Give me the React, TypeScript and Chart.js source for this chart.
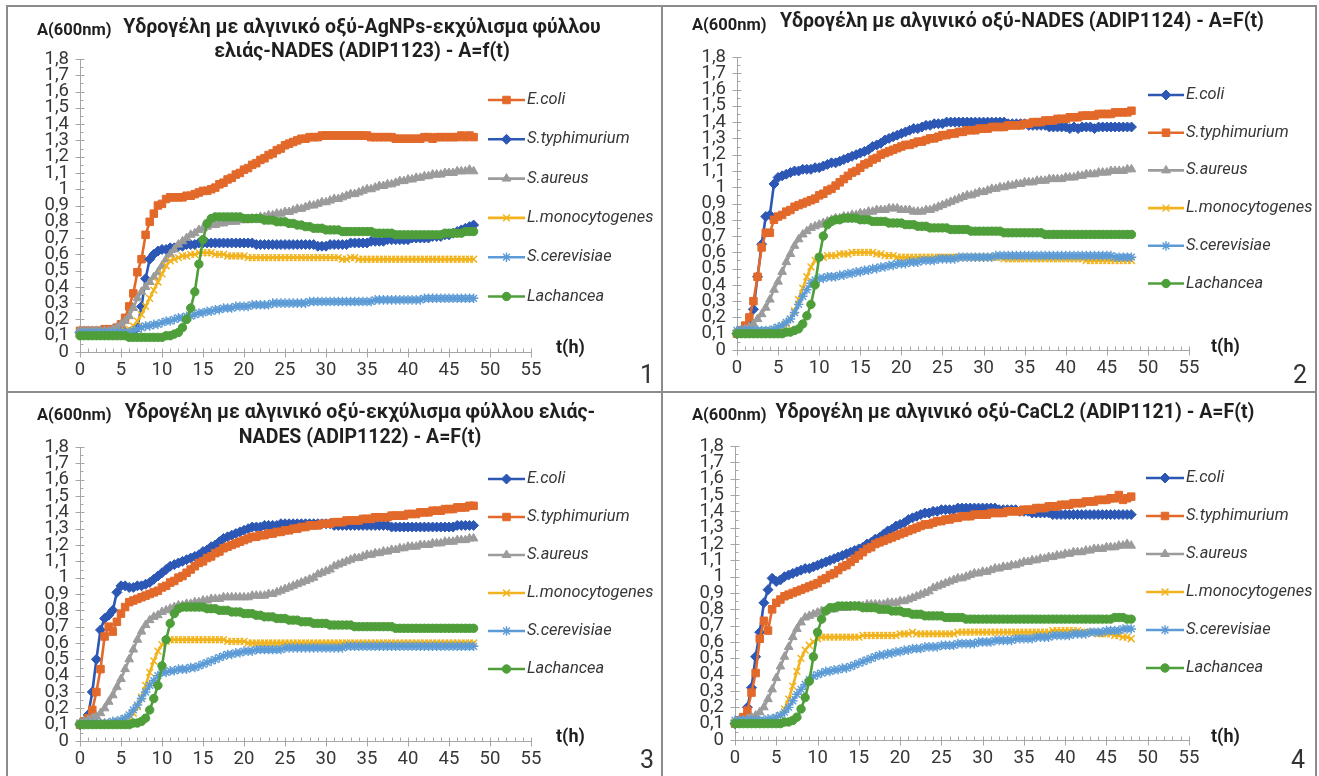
import React, { useEffect, useRef } from "react";
import { Chart, registerables } from "chart.js";
import { drawPoint } from "chart.js/helpers";

Chart.register(...registerables);

// ---------- categories / tick labels ----------
const hours = [
  0, 0.5, 1, 1.5, 2, 2.5, 3, 3.5, 4, 4.5,
  5, 5.5, 6, 6.5, 7, 7.5, 8, 8.5, 9, 9.5,
  10, 10.5, 11, 11.5, 12, 12.5, 13, 13.5, 14, 14.5,
  15, 15.5, 16, 16.5, 17, 17.5, 18, 18.5, 19, 19.5,
  20, 20.5, 21, 21.5, 22, 22.5, 23, 23.5, 24, 24.5,
  25, 25.5, 26, 26.5, 27, 27.5, 28, 28.5, 29, 29.5,
  30, 30.5, 31, 31.5, 32, 32.5, 33, 33.5, 34, 34.5,
  35, 35.5, 36, 36.5, 37, 37.5, 38, 38.5, 39, 39.5,
  40, 40.5, 41, 41.5, 42, 42.5, 43, 43.5, 44, 44.5,
  45, 45.5, 46, 46.5, 47, 47.5, 48,
];
const xTickLabels = ["0", "5", "10", "15", "20", "25", "30", "35", "40", "45", "50", "55"];
const yTickLabels = ["0", "0,1", "0,2", "0,3", "0,4", "0,5", "0,6", "0,7", "0,8", "0,9", "1", "1,1", "1,2", "1,3", "1,4", "1,5", "1,6", "1,7", "1,8"];
const seriesNames = ["E.coli", "S.typhimurium", "S.aureus", "L.monocytogenes", "S.cerevisiae", "Lachancea"];

// ---------- Panel 1 (ADIP1123) ----------
const p1EColi = [
  0.13, 0.13, 0.13, 0.13, 0.13, 0.13, 0.14, 0.14, 0.14, 0.15,
  0.17, 0.21, 0.28, 0.36, 0.49, 0.57, 0.72, 0.80, 0.85, 0.90,
  0.91, 0.94, 0.95, 0.95, 0.95, 0.95, 0.96, 0.96, 0.97, 0.98,
  0.99, 0.99, 1.00, 1.01, 1.03, 1.04, 1.06, 1.07, 1.09, 1.10,
  1.12, 1.13, 1.15, 1.16, 1.18, 1.19, 1.21, 1.22, 1.24, 1.25,
  1.27, 1.28, 1.29, 1.30, 1.31, 1.31, 1.32, 1.32, 1.32, 1.33,
  1.33, 1.33, 1.33, 1.33, 1.33, 1.33, 1.33, 1.33, 1.33, 1.33,
  1.33, 1.32, 1.32, 1.32, 1.32, 1.32, 1.32, 1.31, 1.31, 1.31,
  1.31, 1.31, 1.31, 1.31, 1.32, 1.32, 1.31, 1.32, 1.32, 1.32,
  1.32, 1.32, 1.32, 1.33, 1.32, 1.33, 1.32,
];
const p1STyph = [
  0.12, 0.12, 0.12, 0.12, 0.12, 0.12, 0.12, 0.12, 0.12, 0.12,
  0.12, 0.12, 0.12, 0.13, 0.15, 0.28, 0.45, 0.57, 0.60, 0.62,
  0.63, 0.63, 0.64, 0.64, 0.65, 0.65, 0.66, 0.66, 0.66, 0.67,
  0.67, 0.67, 0.67, 0.67, 0.67, 0.67, 0.67, 0.67, 0.67, 0.67,
  0.67, 0.67, 0.67, 0.66, 0.66, 0.66, 0.66, 0.66, 0.66, 0.66,
  0.66, 0.66, 0.66, 0.66, 0.66, 0.66, 0.66, 0.66, 0.65, 0.65,
  0.65, 0.66, 0.66, 0.66, 0.66, 0.66, 0.67, 0.67, 0.67, 0.67,
  0.67, 0.68, 0.68, 0.68, 0.68, 0.69, 0.69, 0.69, 0.69, 0.69,
  0.69, 0.70, 0.70, 0.70, 0.70, 0.70, 0.71, 0.71, 0.71, 0.72,
  0.72, 0.73, 0.74, 0.75, 0.76, 0.77, 0.78,
];
const p1SAur = [
  0.13, 0.13, 0.13, 0.13, 0.13, 0.13, 0.13, 0.13, 0.14, 0.15,
  0.17, 0.19, 0.22, 0.27, 0.33, 0.37, 0.40, 0.43, 0.46, 0.49,
  0.53, 0.57, 0.60, 0.63, 0.66, 0.68, 0.70, 0.72, 0.73, 0.75,
  0.76, 0.77, 0.78, 0.78, 0.79, 0.79, 0.80, 0.80, 0.80, 0.81,
  0.81, 0.81, 0.82, 0.82, 0.83, 0.83, 0.84, 0.84, 0.85, 0.85,
  0.86, 0.86, 0.87, 0.88, 0.88, 0.89, 0.90, 0.90, 0.91, 0.92,
  0.92, 0.93, 0.94, 0.94, 0.95, 0.96, 0.97, 0.97, 0.98, 0.99,
  1.00, 1.00, 1.01, 1.02, 1.02, 1.03, 1.03, 1.04, 1.05, 1.05,
  1.06, 1.06, 1.07, 1.07, 1.08, 1.08, 1.09, 1.09, 1.09, 1.10,
  1.10, 1.10, 1.11, 1.11, 1.11, 1.12, 1.11,
];
const p1LMono = [
  0.12, 0.12, 0.12, 0.12, 0.12, 0.12, 0.12, 0.12, 0.12, 0.12,
  0.12, 0.13, 0.14, 0.16, 0.19, 0.23, 0.28, 0.33, 0.38, 0.43,
  0.48, 0.53, 0.56, 0.57, 0.58, 0.59, 0.59, 0.60, 0.60, 0.61,
  0.61, 0.61, 0.61, 0.60, 0.60, 0.60, 0.59, 0.59, 0.59, 0.59,
  0.59, 0.58, 0.58, 0.58, 0.58, 0.58, 0.58, 0.58, 0.58, 0.58,
  0.58, 0.58, 0.58, 0.58, 0.58, 0.58, 0.58, 0.58, 0.58, 0.58,
  0.58, 0.58, 0.58, 0.58, 0.57, 0.57, 0.58, 0.58, 0.57, 0.57,
  0.57, 0.57, 0.57, 0.57, 0.57, 0.57, 0.57, 0.57, 0.57, 0.57,
  0.57, 0.57, 0.57, 0.57, 0.57, 0.57, 0.57, 0.57, 0.57, 0.57,
  0.57, 0.57, 0.57, 0.57, 0.57, 0.57, 0.57,
];
const p1SCer = [
  0.12, 0.12, 0.12, 0.12, 0.12, 0.12, 0.12, 0.12, 0.12, 0.12,
  0.12, 0.12, 0.12, 0.13, 0.14, 0.15, 0.16, 0.16, 0.17, 0.17,
  0.18, 0.19, 0.19, 0.20, 0.21, 0.21, 0.22, 0.22, 0.23, 0.24,
  0.24, 0.25, 0.25, 0.26, 0.26, 0.27, 0.27, 0.27, 0.28, 0.28,
  0.28, 0.28, 0.29, 0.29, 0.29, 0.29, 0.29, 0.30, 0.30, 0.30,
  0.30, 0.30, 0.30, 0.30, 0.30, 0.30, 0.31, 0.31, 0.31, 0.31,
  0.31, 0.31, 0.31, 0.31, 0.31, 0.31, 0.31, 0.31, 0.31, 0.31,
  0.31, 0.31, 0.32, 0.32, 0.32, 0.32, 0.32, 0.32, 0.32, 0.32,
  0.32, 0.32, 0.32, 0.32, 0.33, 0.33, 0.33, 0.33, 0.33, 0.33,
  0.33, 0.33, 0.33, 0.33, 0.33, 0.33, 0.33,
];
const p1Lach = [
  0.10, 0.10, 0.10, 0.10, 0.10, 0.10, 0.10, 0.10, 0.10, 0.10,
  0.10, 0.10, 0.09, 0.09, 0.09, 0.09, 0.09, 0.09, 0.09, 0.09,
  0.09, 0.10, 0.10, 0.11, 0.12, 0.15, 0.20, 0.27, 0.37, 0.54,
  0.69, 0.79, 0.82, 0.83, 0.83, 0.83, 0.83, 0.83, 0.83, 0.83,
  0.82, 0.82, 0.82, 0.82, 0.82, 0.81, 0.81, 0.81, 0.80, 0.80,
  0.80, 0.79, 0.79, 0.78, 0.78, 0.77, 0.77, 0.76, 0.76, 0.76,
  0.75, 0.75, 0.75, 0.75, 0.74, 0.74, 0.74, 0.74, 0.74, 0.74,
  0.74, 0.74, 0.73, 0.73, 0.73, 0.73, 0.73, 0.72, 0.72, 0.72,
  0.72, 0.72, 0.72, 0.72, 0.72, 0.72, 0.72, 0.72, 0.72, 0.73,
  0.73, 0.73, 0.73, 0.73, 0.74, 0.74, 0.74,
];

// ---------- Panel 2 (ADIP1124) ----------
const p2EColi = [
  0.10, 0.11, 0.12, 0.15, 0.25, 0.45, 0.65, 0.82, 0.83, 1.02,
  1.06, 1.07, 1.08, 1.09, 1.10, 1.10, 1.11, 1.11, 1.11, 1.12,
  1.12, 1.13, 1.14, 1.15, 1.15, 1.16, 1.17, 1.18, 1.19, 1.20,
  1.21, 1.22, 1.23, 1.25, 1.26, 1.27, 1.29, 1.30, 1.31, 1.32,
  1.33, 1.34, 1.35, 1.36, 1.36, 1.37, 1.38, 1.38, 1.39, 1.39,
  1.39, 1.40, 1.40, 1.40, 1.40, 1.40, 1.40, 1.40, 1.40, 1.40,
  1.40, 1.40, 1.40, 1.40, 1.40, 1.40, 1.39, 1.39, 1.39, 1.39,
  1.39, 1.38, 1.38, 1.38, 1.38, 1.38, 1.37, 1.37, 1.37, 1.37,
  1.37, 1.36, 1.37, 1.36, 1.37, 1.37, 1.37, 1.36, 1.37, 1.37,
  1.37, 1.37, 1.37, 1.37, 1.37, 1.37, 1.37,
];
const p2STyph = [
  0.10, 0.12, 0.15, 0.20, 0.30, 0.45, 0.63, 0.72, 0.72, 0.80,
  0.82, 0.83, 0.85, 0.86, 0.88, 0.89, 0.90, 0.91, 0.92, 0.93,
  0.95, 0.96, 0.98, 0.99, 1.01, 1.03, 1.05, 1.07, 1.09, 1.10,
  1.12, 1.14, 1.15, 1.17, 1.18, 1.20, 1.21, 1.22, 1.23, 1.24,
  1.25, 1.26, 1.26, 1.27, 1.28, 1.28, 1.29, 1.30, 1.30, 1.31,
  1.32, 1.32, 1.33, 1.33, 1.34, 1.34, 1.35, 1.35, 1.35, 1.36,
  1.36, 1.36, 1.37, 1.37, 1.37, 1.37, 1.38, 1.38, 1.38, 1.38,
  1.39, 1.39, 1.40, 1.40, 1.40, 1.41, 1.41, 1.41, 1.42, 1.42,
  1.42, 1.43, 1.43, 1.43, 1.44, 1.44, 1.44, 1.44, 1.45, 1.45,
  1.45, 1.45, 1.46, 1.46, 1.46, 1.46, 1.47,
];
const p2SAur = [
  0.11, 0.12, 0.13, 0.14, 0.16, 0.19, 0.22, 0.26, 0.31, 0.37,
  0.42, 0.48, 0.54, 0.59, 0.64, 0.68, 0.71, 0.73, 0.75, 0.76,
  0.77, 0.78, 0.79, 0.80, 0.81, 0.81, 0.82, 0.82, 0.83, 0.83,
  0.84, 0.84, 0.85, 0.85, 0.86, 0.86, 0.86, 0.87, 0.87, 0.87,
  0.86, 0.86, 0.86, 0.85, 0.85, 0.85, 0.86, 0.86, 0.87, 0.88,
  0.89, 0.90, 0.91, 0.92, 0.93, 0.94, 0.95, 0.95, 0.96, 0.97,
  0.97, 0.98, 0.99, 0.99, 1.00, 1.00, 1.01, 1.01, 1.02, 1.02,
  1.03, 1.03, 1.03, 1.04, 1.04, 1.04, 1.05, 1.05, 1.05, 1.05,
  1.06, 1.06, 1.06, 1.07, 1.07, 1.08, 1.08, 1.08, 1.09, 1.09,
  1.09, 1.10, 1.10, 1.10, 1.10, 1.11, 1.11,
];
const p2LMono = [
  0.11, 0.11, 0.11, 0.11, 0.11, 0.11, 0.11, 0.11, 0.12, 0.12,
  0.13, 0.14, 0.16, 0.19, 0.24, 0.31, 0.38, 0.45, 0.51, 0.55,
  0.57, 0.57, 0.58, 0.58, 0.58, 0.59, 0.59, 0.59, 0.60, 0.60,
  0.60, 0.60, 0.60, 0.60, 0.59, 0.59, 0.58, 0.58, 0.58, 0.57,
  0.57, 0.57, 0.57, 0.57, 0.57, 0.57, 0.57, 0.57, 0.57, 0.57,
  0.57, 0.57, 0.57, 0.57, 0.57, 0.57, 0.57, 0.57, 0.57, 0.57,
  0.57, 0.57, 0.57, 0.57, 0.57, 0.56, 0.56, 0.56, 0.56, 0.56,
  0.56, 0.56, 0.56, 0.56, 0.56, 0.56, 0.56, 0.56, 0.56, 0.56,
  0.56, 0.56, 0.56, 0.56, 0.56, 0.55, 0.55, 0.55, 0.55, 0.55,
  0.55, 0.55, 0.55, 0.55, 0.55, 0.55, 0.55,
];
const p2SCer = [
  0.12, 0.12, 0.12, 0.12, 0.12, 0.12, 0.12, 0.12, 0.12, 0.13,
  0.14, 0.15, 0.17, 0.19, 0.23, 0.28, 0.33, 0.37, 0.41, 0.43,
  0.44, 0.44, 0.45, 0.45, 0.45, 0.46, 0.46, 0.47, 0.47, 0.48,
  0.48, 0.49, 0.49, 0.50, 0.50, 0.51, 0.51, 0.52, 0.52, 0.53,
  0.53, 0.53, 0.54, 0.54, 0.54, 0.55, 0.55, 0.55, 0.55, 0.56,
  0.56, 0.56, 0.56, 0.56, 0.57, 0.57, 0.57, 0.57, 0.57, 0.57,
  0.57, 0.57, 0.57, 0.58, 0.58, 0.58, 0.58, 0.58, 0.58, 0.58,
  0.58, 0.58, 0.58, 0.58, 0.58, 0.58, 0.58, 0.58, 0.58, 0.58,
  0.58, 0.58, 0.58, 0.58, 0.58, 0.58, 0.58, 0.58, 0.58, 0.58,
  0.58, 0.58, 0.57, 0.57, 0.57, 0.57, 0.57,
];
const p2Lach = [
  0.10, 0.10, 0.10, 0.10, 0.10, 0.10, 0.10, 0.10, 0.10, 0.10,
  0.10, 0.10, 0.11, 0.11, 0.12, 0.13, 0.16, 0.21, 0.28, 0.40,
  0.57, 0.70, 0.77, 0.79, 0.80, 0.80, 0.81, 0.81, 0.81, 0.81,
  0.80, 0.80, 0.80, 0.79, 0.79, 0.79, 0.79, 0.78, 0.78, 0.78,
  0.78, 0.77, 0.77, 0.77, 0.76, 0.76, 0.76, 0.75, 0.75, 0.75,
  0.75, 0.75, 0.74, 0.74, 0.74, 0.74, 0.74, 0.73, 0.73, 0.73,
  0.73, 0.73, 0.73, 0.73, 0.73, 0.72, 0.72, 0.72, 0.72, 0.72,
  0.72, 0.72, 0.72, 0.72, 0.72, 0.71, 0.71, 0.71, 0.71, 0.71,
  0.71, 0.71, 0.71, 0.71, 0.71, 0.71, 0.71, 0.71, 0.71, 0.71,
  0.71, 0.71, 0.71, 0.71, 0.71, 0.71, 0.71,
];

// ---------- Panel 3 (ADIP1122) ----------
const p3EColi = [
  0.10, 0.12, 0.16, 0.30, 0.50, 0.68, 0.75, 0.77, 0.80, 0.91,
  0.95, 0.95, 0.94, 0.94, 0.95, 0.95, 0.96, 0.97, 0.99, 1.01,
  1.03, 1.05, 1.07, 1.08, 1.09, 1.10, 1.11, 1.12, 1.13, 1.14,
  1.16, 1.17, 1.19, 1.20, 1.22, 1.24, 1.25, 1.26, 1.27, 1.28,
  1.29, 1.30, 1.31, 1.31, 1.31, 1.32, 1.32, 1.32, 1.32, 1.33,
  1.33, 1.33, 1.33, 1.33, 1.33, 1.33, 1.33, 1.33, 1.33, 1.33,
  1.33, 1.33, 1.32, 1.32, 1.32, 1.32, 1.32, 1.32, 1.32, 1.32,
  1.32, 1.32, 1.32, 1.32, 1.32, 1.32, 1.31, 1.31, 1.31, 1.31,
  1.31, 1.31, 1.31, 1.31, 1.31, 1.31, 1.31, 1.31, 1.31, 1.31,
  1.31, 1.31, 1.32, 1.32, 1.32, 1.32, 1.32,
];
const p3STyph = [
  0.10, 0.12, 0.14, 0.19, 0.30, 0.44, 0.64, 0.70, 0.67, 0.73,
  0.78, 0.82, 0.85, 0.86, 0.87, 0.88, 0.89, 0.90, 0.91, 0.92,
  0.94, 0.95, 0.97, 0.98, 1.00, 1.01, 1.03, 1.05, 1.07, 1.09,
  1.10, 1.12, 1.13, 1.15, 1.16, 1.18, 1.19, 1.20, 1.21, 1.22,
  1.23, 1.24, 1.25, 1.25, 1.26, 1.26, 1.27, 1.27, 1.28, 1.28,
  1.29, 1.29, 1.30, 1.30, 1.31, 1.31, 1.32, 1.32, 1.32, 1.33,
  1.33, 1.33, 1.34, 1.34, 1.34, 1.35, 1.35, 1.35, 1.35, 1.36,
  1.36, 1.36, 1.37, 1.37, 1.37, 1.37, 1.38, 1.38, 1.38, 1.38,
  1.39, 1.39, 1.39, 1.40, 1.40, 1.40, 1.41, 1.41, 1.41, 1.42,
  1.42, 1.42, 1.43, 1.43, 1.43, 1.44, 1.44,
];
const p3SAur = [
  0.11, 0.12, 0.13, 0.14, 0.15, 0.17, 0.20, 0.24, 0.28, 0.33,
  0.38, 0.44, 0.50, 0.56, 0.62, 0.67, 0.71, 0.74, 0.76, 0.77,
  0.79, 0.80, 0.81, 0.82, 0.83, 0.83, 0.84, 0.84, 0.85, 0.85,
  0.86, 0.86, 0.87, 0.87, 0.87, 0.88, 0.88, 0.88, 0.88, 0.88,
  0.88, 0.88, 0.89, 0.89, 0.89, 0.89, 0.90, 0.90, 0.91, 0.92,
  0.93, 0.94, 0.95, 0.96, 0.97, 0.98, 0.99, 1.00, 1.02, 1.03,
  1.04, 1.05, 1.07, 1.08, 1.09, 1.10, 1.11, 1.12, 1.12, 1.13,
  1.14, 1.14, 1.15, 1.15, 1.16, 1.16, 1.17, 1.17, 1.18, 1.18,
  1.19, 1.19, 1.19, 1.20, 1.20, 1.20, 1.21, 1.21, 1.21, 1.22,
  1.22, 1.22, 1.23, 1.23, 1.23, 1.24, 1.24,
];
const p3LMono = [
  0.11, 0.11, 0.11, 0.11, 0.11, 0.11, 0.11, 0.11, 0.12, 0.12,
  0.12, 0.13, 0.14, 0.17, 0.21, 0.27, 0.34, 0.42, 0.49, 0.55,
  0.59, 0.61, 0.62, 0.62, 0.62, 0.62, 0.62, 0.62, 0.62, 0.62,
  0.62, 0.62, 0.62, 0.62, 0.62, 0.62, 0.61, 0.61, 0.61, 0.61,
  0.61, 0.60, 0.60, 0.60, 0.60, 0.60, 0.60, 0.60, 0.60, 0.60,
  0.60, 0.60, 0.60, 0.60, 0.60, 0.60, 0.60, 0.60, 0.60, 0.60,
  0.60, 0.60, 0.60, 0.60, 0.60, 0.60, 0.60, 0.60, 0.60, 0.60,
  0.60, 0.60, 0.60, 0.60, 0.60, 0.60, 0.60, 0.60, 0.60, 0.60,
  0.60, 0.60, 0.60, 0.60, 0.60, 0.60, 0.60, 0.60, 0.60, 0.60,
  0.60, 0.60, 0.60, 0.60, 0.60, 0.60, 0.60,
];
const p3SCer = [
  0.11, 0.11, 0.11, 0.11, 0.11, 0.11, 0.11, 0.11, 0.12, 0.12,
  0.13, 0.14, 0.16, 0.19, 0.22, 0.26, 0.30, 0.34, 0.37, 0.40,
  0.42, 0.42, 0.43, 0.43, 0.44, 0.44, 0.44, 0.45, 0.45, 0.46,
  0.47, 0.48, 0.49, 0.50, 0.51, 0.52, 0.53, 0.53, 0.54, 0.54,
  0.55, 0.55, 0.55, 0.56, 0.56, 0.56, 0.56, 0.56, 0.56, 0.56,
  0.57, 0.57, 0.57, 0.57, 0.57, 0.57, 0.57, 0.57, 0.57, 0.57,
  0.57, 0.57, 0.57, 0.57, 0.57, 0.58, 0.58, 0.58, 0.58, 0.58,
  0.58, 0.58, 0.58, 0.58, 0.58, 0.58, 0.58, 0.58, 0.58, 0.58,
  0.58, 0.58, 0.58, 0.58, 0.58, 0.58, 0.58, 0.58, 0.58, 0.58,
  0.58, 0.58, 0.58, 0.58, 0.58, 0.58, 0.58,
];
const p3Lach = [
  0.10, 0.10, 0.10, 0.10, 0.10, 0.10, 0.10, 0.10, 0.10, 0.10,
  0.10, 0.10, 0.10, 0.11, 0.11, 0.12, 0.14, 0.19, 0.26, 0.34,
  0.46, 0.62, 0.72, 0.78, 0.81, 0.82, 0.82, 0.82, 0.82, 0.82,
  0.82, 0.81, 0.81, 0.81, 0.80, 0.80, 0.80, 0.79, 0.79, 0.79,
  0.78, 0.78, 0.78, 0.77, 0.77, 0.76, 0.76, 0.76, 0.75, 0.75,
  0.75, 0.74, 0.74, 0.74, 0.73, 0.73, 0.73, 0.72, 0.72, 0.72,
  0.72, 0.71, 0.71, 0.71, 0.71, 0.71, 0.71, 0.70, 0.70, 0.70,
  0.70, 0.70, 0.70, 0.70, 0.70, 0.70, 0.70, 0.69, 0.69, 0.69,
  0.69, 0.69, 0.69, 0.69, 0.69, 0.69, 0.69, 0.69, 0.69, 0.69,
  0.69, 0.69, 0.69, 0.69, 0.69, 0.69, 0.69,
];

// ---------- Panel 4 (ADIP1121) ----------
const p4EColi = [
  0.10, 0.11, 0.13, 0.20, 0.32, 0.51, 0.66, 0.84, 0.92, 0.99,
  0.97, 0.98, 1.00, 1.01, 1.02, 1.03, 1.04, 1.05, 1.05, 1.06,
  1.07, 1.08, 1.09, 1.10, 1.11, 1.12, 1.13, 1.14, 1.15, 1.16,
  1.17, 1.18, 1.20, 1.21, 1.23, 1.24, 1.26, 1.28, 1.29, 1.31,
  1.32, 1.33, 1.35, 1.36, 1.37, 1.38, 1.39, 1.39, 1.40, 1.40,
  1.41, 1.41, 1.41, 1.41, 1.42, 1.42, 1.42, 1.42, 1.42, 1.42,
  1.42, 1.42, 1.42, 1.42, 1.41, 1.41, 1.41, 1.41, 1.41, 1.40,
  1.40, 1.40, 1.39, 1.39, 1.39, 1.39, 1.39, 1.38, 1.38, 1.38,
  1.38, 1.38, 1.38, 1.38, 1.38, 1.38, 1.38, 1.38, 1.38, 1.38,
  1.38, 1.38, 1.38, 1.38, 1.38, 1.38, 1.38,
];
const p4STyph = [
  0.10, 0.12, 0.14, 0.18, 0.29, 0.41, 0.62, 0.73, 0.67, 0.80,
  0.84, 0.86, 0.88, 0.89, 0.90, 0.91, 0.92, 0.93, 0.94, 0.95,
  0.96, 0.98, 0.99, 1.01, 1.02, 1.04, 1.06, 1.07, 1.09, 1.11,
  1.13, 1.15, 1.17, 1.18, 1.20, 1.21, 1.22, 1.23, 1.24, 1.25,
  1.26, 1.27, 1.28, 1.29, 1.30, 1.31, 1.32, 1.32, 1.33, 1.34,
  1.34, 1.35, 1.35, 1.36, 1.36, 1.37, 1.37, 1.37, 1.38, 1.38,
  1.38, 1.38, 1.39, 1.39, 1.39, 1.39, 1.40, 1.40, 1.40, 1.40,
  1.41, 1.41, 1.41, 1.42, 1.42, 1.42, 1.43, 1.43, 1.43, 1.44,
  1.44, 1.44, 1.45, 1.45, 1.45, 1.46, 1.46, 1.46, 1.47, 1.47,
  1.47, 1.48, 1.48, 1.50, 1.47, 1.48, 1.49,
];
const p4SAur = [
  0.11, 0.12, 0.12, 0.13, 0.14, 0.15, 0.17, 0.20, 0.25, 0.31,
  0.38, 0.45, 0.51, 0.57, 0.63, 0.68, 0.72, 0.75, 0.76, 0.77,
  0.78, 0.79, 0.79, 0.80, 0.80, 0.81, 0.81, 0.81, 0.82, 0.82,
  0.82, 0.82, 0.83, 0.83, 0.83, 0.83, 0.83, 0.84, 0.84, 0.84,
  0.85, 0.85, 0.86, 0.87, 0.88, 0.89, 0.90, 0.91, 0.93, 0.94,
  0.95, 0.96, 0.97, 0.98, 0.99, 0.99, 1.00, 1.01, 1.02, 1.02,
  1.03, 1.03, 1.04, 1.05, 1.05, 1.06, 1.06, 1.07, 1.07, 1.08,
  1.09, 1.09, 1.10, 1.10, 1.11, 1.11, 1.12, 1.12, 1.13, 1.13,
  1.14, 1.14, 1.15, 1.15, 1.15, 1.16, 1.16, 1.17, 1.17, 1.17,
  1.18, 1.18, 1.18, 1.19, 1.19, 1.20, 1.19,
];
const p4LMono = [
  0.11, 0.11, 0.11, 0.11, 0.11, 0.11, 0.11, 0.12, 0.12, 0.12,
  0.13, 0.15, 0.19, 0.25, 0.33, 0.42, 0.50, 0.55, 0.58, 0.60,
  0.62, 0.63, 0.63, 0.63, 0.63, 0.63, 0.63, 0.63, 0.63, 0.63,
  0.63, 0.64, 0.64, 0.64, 0.64, 0.64, 0.64, 0.64, 0.64, 0.64,
  0.65, 0.65, 0.65, 0.66, 0.65, 0.65, 0.65, 0.65, 0.65, 0.65,
  0.65, 0.65, 0.65, 0.65, 0.66, 0.66, 0.66, 0.66, 0.66, 0.66,
  0.66, 0.66, 0.66, 0.66, 0.66, 0.66, 0.66, 0.66, 0.66, 0.66,
  0.66, 0.66, 0.66, 0.66, 0.66, 0.66, 0.66, 0.67, 0.67, 0.67,
  0.67, 0.67, 0.67, 0.67, 0.66, 0.66, 0.66, 0.66, 0.65, 0.65,
  0.65, 0.65, 0.64, 0.64, 0.63, 0.63, 0.62,
];
const p4SCer = [
  0.12, 0.12, 0.12, 0.12, 0.12, 0.12, 0.12, 0.12, 0.13, 0.13,
  0.14, 0.15, 0.17, 0.20, 0.24, 0.28, 0.31, 0.34, 0.37, 0.39,
  0.40, 0.41, 0.42, 0.42, 0.43, 0.43, 0.44, 0.44, 0.45, 0.46,
  0.47, 0.48, 0.49, 0.50, 0.51, 0.52, 0.52, 0.53, 0.53, 0.54,
  0.54, 0.55, 0.55, 0.56, 0.56, 0.56, 0.57, 0.57, 0.57, 0.57,
  0.58, 0.58, 0.58, 0.58, 0.59, 0.59, 0.59, 0.59, 0.59, 0.60,
  0.60, 0.60, 0.60, 0.61, 0.61, 0.61, 0.61, 0.61, 0.62, 0.62,
  0.62, 0.62, 0.62, 0.63, 0.63, 0.63, 0.63, 0.64, 0.64, 0.64,
  0.64, 0.64, 0.65, 0.65, 0.65, 0.65, 0.66, 0.66, 0.66, 0.66,
  0.67, 0.67, 0.67, 0.67, 0.68, 0.68, 0.68,
];
const p4Lach = [
  0.10, 0.10, 0.10, 0.10, 0.10, 0.10, 0.10, 0.10, 0.10, 0.10,
  0.10, 0.10, 0.11, 0.11, 0.12, 0.14, 0.19, 0.26, 0.36, 0.51,
  0.66, 0.74, 0.79, 0.81, 0.81, 0.82, 0.82, 0.82, 0.82, 0.82,
  0.82, 0.81, 0.81, 0.81, 0.81, 0.80, 0.80, 0.80, 0.79, 0.79,
  0.79, 0.78, 0.78, 0.77, 0.77, 0.77, 0.76, 0.76, 0.76, 0.76,
  0.76, 0.75, 0.75, 0.75, 0.75, 0.75, 0.74, 0.74, 0.74, 0.74,
  0.74, 0.74, 0.74, 0.74, 0.74, 0.74, 0.74, 0.74, 0.74, 0.74,
  0.74, 0.74, 0.74, 0.74, 0.74, 0.74, 0.74, 0.74, 0.74, 0.74,
  0.74, 0.74, 0.74, 0.74, 0.74, 0.74, 0.74, 0.74, 0.74, 0.74,
  0.74, 0.74, 0.75, 0.75, 0.75, 0.74, 0.74,
];

// ---------- styles ----------
const FONT = "Roboto, 'Open Sans', sans-serif";
const TEXT = "#363636";
const AXIS = "#a6a6a6";

type MarkStyle = { color: string; pointStyle: string; radius: number; border: number };
const ORANGE_SQ: MarkStyle = { color: "#E2692A", pointStyle: "rect", radius: 5.3, border: 1 };
const BLUE_DIA: MarkStyle = { color: "#2C57B5", pointStyle: "rectRot", radius: 5, border: 1 };
const GRAY_TRI: MarkStyle = { color: "#9B9B9B", pointStyle: "triangle", radius: 5, border: 1 };
const YELLOW_X: MarkStyle = { color: "#F1B41F", pointStyle: "crossRot", radius: 4.8, border: 1.5 };
const LBLUE_STAR: MarkStyle = { color: "#5C9BD6", pointStyle: "star", radius: 4.8, border: 1.4 };
const GREEN_DOT: MarkStyle = { color: "#4E9E3A", pointStyle: "circle", radius: 4.2, border: 1 };

type Series = { name: string; data: number[]; style: MarkStyle };
type PanelCfg = {
  id: number;
  canvas: { x: number; y: number; w: number; h: number };
  area: { left: number; right: number; top: number; bottom: number };
  title: string[];
  titleX: number;
  titleY: number[];
  aLabel: { x: number; y: number };
  tLabel: { x: number; y: number };
  num: { x: number; y: number };
  legend: { x0: number; x1: number; y0: number; gap: number };
  series: Series[];
};

const panels: PanelCfg[] = [
  {
    id: 1,
    canvas: { x: 0, y: 0, w: 661, h: 391 },
    area: { left: 80, right: 531, top: 59, bottom: 352 },
    title: ["Υδρογέλη με αλγινικό οξύ-AgNPs-εκχύλισμα φύλλου", "ελιάς-NADES (ADIP1123) - A=f(t)"],
    titleX: 362,
    titleY: [28, 52],
    aLabel: { x: 37, y: 31 },
    tLabel: { x: 556, y: 348 },
    num: { x: 647, y: 377 },
    legend: { x0: 488, x1: 525, y0: 100, gap: 39.3 },
    series: [
      { name: seriesNames[0], data: p1EColi, style: ORANGE_SQ },
      { name: seriesNames[1], data: p1STyph, style: BLUE_DIA },
      { name: seriesNames[2], data: p1SAur, style: GRAY_TRI },
      { name: seriesNames[3], data: p1LMono, style: YELLOW_X },
      { name: seriesNames[4], data: p1SCer, style: LBLUE_STAR },
      { name: seriesNames[5], data: p1Lach, style: GREEN_DOT },
    ],
  },
  {
    id: 2,
    canvas: { x: 663, y: 0, w: 656, h: 391 },
    area: { left: 737, right: 1189, top: 57, bottom: 350 },
    title: ["Υδρογέλη με αλγινικό οξύ-NADES (ADIP1124) - A=F(t)"],
    titleX: 1022,
    titleY: [22],
    aLabel: { x: 692, y: 26 },
    tLabel: { x: 1211, y: 347 },
    num: { x: 1300, y: 377 },
    legend: { x0: 1148, x1: 1184, y0: 95, gap: 37.7 },
    series: [
      { name: seriesNames[0], data: p2EColi, style: BLUE_DIA },
      { name: seriesNames[1], data: p2STyph, style: ORANGE_SQ },
      { name: seriesNames[2], data: p2SAur, style: GRAY_TRI },
      { name: seriesNames[3], data: p2LMono, style: YELLOW_X },
      { name: seriesNames[4], data: p2SCer, style: LBLUE_STAR },
      { name: seriesNames[5], data: p2Lach, style: GREEN_DOT },
    ],
  },
  {
    id: 3,
    canvas: { x: 0, y: 393, w: 661, h: 383 },
    area: { left: 80, right: 531, top: 447, bottom: 741 },
    title: ["Υδρογέλη με αλγινικό οξύ-εκχύλισμα φύλλου ελιάς-", "NADES (ADIP1122) - A=F(t)"],
    titleX: 360,
    titleY: [413, 438],
    aLabel: { x: 37, y: 416 },
    tLabel: { x: 556, y: 737 },
    num: { x: 647, y: 762 },
    legend: { x0: 488, x1: 525, y0: 479, gap: 38 },
    series: [
      { name: seriesNames[0], data: p3EColi, style: BLUE_DIA },
      { name: seriesNames[1], data: p3STyph, style: ORANGE_SQ },
      { name: seriesNames[2], data: p3SAur, style: GRAY_TRI },
      { name: seriesNames[3], data: p3LMono, style: YELLOW_X },
      { name: seriesNames[4], data: p3SCer, style: LBLUE_STAR },
      { name: seriesNames[5], data: p3Lach, style: GREEN_DOT },
    ],
  },
  {
    id: 4,
    canvas: { x: 663, y: 393, w: 656, h: 383 },
    area: { left: 735, right: 1189, top: 446, bottom: 740 },
    title: ["Υδρογέλη με αλγινικό οξύ-CaCL2 (ADIP1121) - A=F(t)"],
    titleX: 1015,
    titleY: [413],
    aLabel: { x: 692, y: 416 },
    tLabel: { x: 1211, y: 737 },
    num: { x: 1298, y: 762 },
    legend: { x0: 1146, x1: 1184, y0: 478, gap: 38 },
    series: [
      { name: seriesNames[0], data: p4EColi, style: BLUE_DIA },
      { name: seriesNames[1], data: p4STyph, style: ORANGE_SQ },
      { name: seriesNames[2], data: p4SAur, style: GRAY_TRI },
      { name: seriesNames[3], data: p4LMono, style: YELLOW_X },
      { name: seriesNames[4], data: p4SCer, style: LBLUE_STAR },
      { name: seriesNames[5], data: p4Lach, style: GREEN_DOT },
    ],
  },
];

function makeDecor(p: PanelCfg) {
  const ox = p.canvas.x;
  const oy = p.canvas.y;
  return {
    id: "decor" + p.id,
    beforeDatasetsDraw(chart: any) {
      const ctx = chart.ctx as CanvasRenderingContext2D;
      const xs = chart.scales.x;
      const ys = chart.scales.y;
      const left = Math.round(xs.getPixelForValue(0)) + 0.5;
      const bottom = Math.round(ys.getPixelForValue(0)) + 0.5;
      ctx.save();
      ctx.strokeStyle = AXIS;
      ctx.lineWidth = 1;
      ctx.beginPath();
      ctx.moveTo(left, ys.getPixelForValue(1.8));
      ctx.lineTo(left, bottom);
      ctx.moveTo(left - 4, bottom);
      ctx.lineTo(xs.getPixelForValue(55), bottom);
      for (let k = 0; k <= 18; k++) {
        const py = Math.round(ys.getPixelForValue(k / 10)) + 0.5;
        ctx.moveTo(left - 5, py);
        ctx.lineTo(left + 4, py);
        if (k < 18) {
          const pm = Math.round(ys.getPixelForValue(k / 10 + 0.05)) + 0.5;
          ctx.moveTo(left, pm);
          ctx.lineTo(left + 3, pm);
        }
      }
      for (let h = 0; h <= 55; h++) {
        const px = Math.round(xs.getPixelForValue(h)) + 0.5;
        if (h % 5 === 0) {
          ctx.moveTo(px, bottom - 4);
          ctx.lineTo(px, bottom + 5);
        } else {
          ctx.moveTo(px, bottom - 4);
          ctx.lineTo(px, bottom);
        }
      }
      ctx.stroke();
      ctx.restore();
    },
    afterDatasetsDraw(chart: any) {
      const ctx = chart.ctx as CanvasRenderingContext2D;
      ctx.save();
      p.series.forEach((s, i) => {
        const y = p.legend.y0 + i * p.legend.gap - oy;
        const x0 = p.legend.x0 - ox;
        const x1 = p.legend.x1 - ox;
        ctx.strokeStyle = s.style.color;
        ctx.fillStyle = s.style.color;
        ctx.lineWidth = 2.6;
        ctx.beginPath();
        ctx.moveTo(x0, y);
        ctx.lineTo(x1, y);
        ctx.stroke();
        ctx.lineWidth = s.style.border;
        drawPoint(ctx, { pointStyle: s.style.pointStyle as any, radius: s.style.radius, rotation: 0, borderWidth: s.style.border } as any, (x0 + x1) / 2, y);
        ctx.fillStyle = TEXT;
        ctx.font = `italic 16.4px ${FONT}`;
        ctx.textAlign = "left";
        ctx.textBaseline = "middle";
        ctx.fillText(s.name, x1 + 2, y);
      });
      ctx.fillStyle = "#1f1f1f";
      ctx.font = `bold 19.5px ${FONT}`;
      ctx.textAlign = "center";
      ctx.textBaseline = "middle";
      p.title.forEach((line, i) => ctx.fillText(line, p.titleX - ox, p.titleY[i] - oy));
      ctx.font = `bold 16.5px ${FONT}`;
      ctx.textAlign = "left";
      ctx.fillText("A(600nm)", p.aLabel.x - ox, p.aLabel.y - oy);
      ctx.font = `bold 18px ${FONT}`;
      ctx.fillText("t(h)", p.tLabel.x - ox, p.tLabel.y - oy);
      ctx.fillStyle = "#333333";
      ctx.font = `25px ${FONT}`;
      ctx.textAlign = "center";
      ctx.fillText(String(p.id), p.num.x - ox, p.num.y - oy);
      ctx.restore();
    },
  };
}

function PanelChart({ p }: { p: PanelCfg }) {
  const ref = useRef<HTMLCanvasElement | null>(null);
  useEffect(() => {
    if (!ref.current) return;
    const { canvas, area } = p;
    const chart = new Chart(ref.current, {
      type: "line",
      data: {
        datasets: p.series.map((s, i) => ({
          label: s.name,
          data: hours.map((h, j) => ({ x: h, y: s.data[j] })),
          borderColor: s.style.color,
          backgroundColor: s.style.color,
          pointBackgroundColor: s.style.color,
          pointBorderColor: s.style.color,
          pointStyle: s.style.pointStyle as any,
          pointRadius: s.style.radius,
          pointBorderWidth: s.style.border,
          borderWidth: 2.6,
          tension: 0,
          clip: false as any,
          order: p.series.length - i,
        })),
      },
      options: {
        animation: false,
        responsive: false,
        maintainAspectRatio: false,
        devicePixelRatio: 1,
        events: [],
        layout: {
          padding: {
            left: 0,
            top: area.top - canvas.y,
            right: canvas.w - (area.right - canvas.x),
            bottom: 0,
          },
        },
        plugins: {
          legend: { display: false },
          tooltip: { enabled: false },
          title: { display: false },
        },
        scales: {
          x: {
            type: "linear",
            min: 0,
            max: 55,
            grid: { display: false, drawTicks: false },
            border: { display: false },
            ticks: {
              stepSize: 5,
              autoSkip: false,
              maxRotation: 0,
              padding: 7,
              color: TEXT,
              font: { family: FONT, size: 18.5 },
              callback: (v: any) => xTickLabels[Math.round(Number(v) / 5)],
            },
            afterFit: (s: any) => {
              s.height = canvas.h - (area.bottom - canvas.y);
            },
          },
          y: {
            type: "linear",
            min: 0,
            max: 1.8,
            grid: { display: false, drawTicks: false },
            border: { display: false },
            ticks: {
              stepSize: 0.1,
              autoSkip: false,
              padding: 11,
              color: TEXT,
              font: { family: FONT, size: 18.5 },
              callback: (v: any) => yTickLabels[Math.round(Number(v) * 10)],
            },
            afterFit: (s: any) => {
              s.width = area.left - canvas.x;
            },
          },
        },
      },
      plugins: [makeDecor(p)],
    } as any);
    return () => chart.destroy();
  }, [p]);
  return (
    <canvas
      ref={ref}
      width={p.canvas.w}
      height={p.canvas.h}
      style={{ position: "absolute", left: p.canvas.x, top: p.canvas.y, width: p.canvas.w, height: p.canvas.h }}
    />
  );
}

const LINE = "#8c8c8c";

export default function App() {
  return (
    <div style={{ position: "absolute", left: 0, top: 0, width: 1319, height: 776, overflow: "hidden", background: "#ffffff" }}>
      {panels.map((p) => (
        <PanelChart key={p.id} p={p} />
      ))}
      <div style={{ position: "absolute", left: 6, top: 5, width: 1311, height: 2, background: LINE }} />
      <div style={{ position: "absolute", left: 6, top: 5, width: 2, height: 771, background: LINE }} />
      <div style={{ position: "absolute", left: 1315, top: 5, width: 2, height: 771, background: LINE }} />
      <div style={{ position: "absolute", left: 661, top: 5, width: 2, height: 771, background: LINE }} />
      <div style={{ position: "absolute", left: 6, top: 391, width: 1311, height: 2, background: LINE }} />
    </div>
  );
}
